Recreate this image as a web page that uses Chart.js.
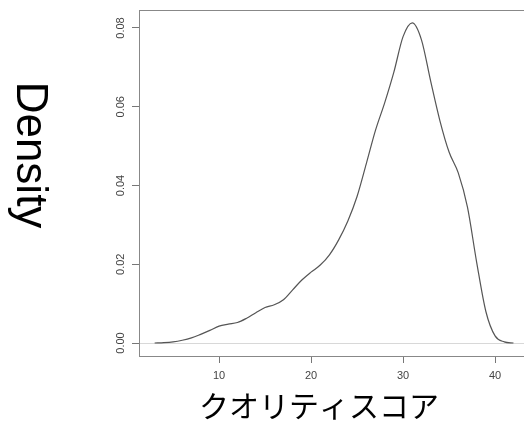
<!DOCTYPE html>
<html>
<head>
<meta charset="utf-8">
<script src="https://cdn.jsdelivr.net/npm/chart.js@4.4.1/dist/chart.umd.min.js"></script>
<style>
  html, body { margin: 0; padding: 0; background: #fff; overflow: hidden; }
  #wrap { width: 540px; height: 426px; }
</style>
</head>
<body>
<div id="wrap"><canvas id="densityChart" width="540" height="426"></canvas></div>
<script>
(() => {
  'use strict'

  // quality score (x) and estimated density (y)
  const scores = [3, 4, 5, 6, 7, 8, 9, 10, 11, 12, 13, 14, 15, 16, 17, 18, 19, 20, 21, 22,
    23, 24, 25, 26, 27, 28, 29, 30, 31, 32, 33, 34, 35, 36, 37, 38, 39, 40, 41, 42];
  const density = [0.0000, 0.0001, 0.0003, 0.0007, 0.0013, 0.0022, 0.0032, 0.0043, 0.0048, 0.0052,
    0.0063, 0.0077, 0.0090, 0.0097, 0.0110, 0.0135, 0.0160, 0.0180, 0.0198, 0.0224,
    0.0262, 0.0310, 0.0372, 0.0455, 0.0540, 0.0610, 0.0688, 0.0778, 0.0813, 0.0770,
    0.0665, 0.0565, 0.0485, 0.0432, 0.0345, 0.0205, 0.0080, 0.0018, 0.0003, 0.0000];
  const xTicks = [10, 20, 30, 40];
  const yTicks = [0, 0.02, 0.04, 0.06, 0.08];

  const xTitle = 'クオリティスコア';
  const yTitle = 'Density';

  // box around plot area + axis titles (R style)
  const frameAndTitles = {
    id: 'frameAndTitles',
    afterDraw(chart) {
      const { ctx, chartArea } = chart;
      ctx.save();
      ctx.strokeStyle = '#888';
      ctx.lineWidth = 1;
      ctx.beginPath();
      ctx.moveTo(Math.round(chartArea.left) + 0.5, Math.round(chartArea.top) + 0.5);
      ctx.lineTo(Math.round(chartArea.right) + 0.5, Math.round(chartArea.top) + 0.5);
      ctx.lineTo(Math.round(chartArea.right) + 0.5, Math.round(chartArea.bottom) + 0.5);
      ctx.stroke();

      ctx.fillStyle = '#000';
      ctx.font = '30px "Noto Sans CJK JP"';
      ctx.textAlign = 'center';
      ctx.textBaseline = 'middle';
      ctx.fillText(xTitle, 319, 406);

      ctx.translate(17, 155);
      ctx.rotate(Math.PI / 2);
      ctx.font = '44px "Liberation Sans"';
      ctx.textBaseline = 'alphabetic';
      ctx.fillText(yTitle, 0, 0);
      ctx.restore();
    }
  };

  const ctx1 = document.getElementById('densityChart');
  const densityChart = new Chart(ctx1, {
    type: 'line',
    data: {
      datasets: [{
        data: scores.map((s, i) => ({ x: s, y: density[i] })),
        borderColor: '#555',
        borderWidth: 1.2,
        pointRadius: 0,
        fill: false,
        cubicInterpolationMode: 'monotone'
      }]
    },
    options: {
      responsive: false,
      animation: false,
      layout: {
        padding: { top: 10, left: 0, right: 5, bottom: 0 }
      },
      scales: {
        x: {
          type: 'linear',
          min: 1.3,
          max: 44.34,
          afterBuildTicks: scale => { scale.ticks = xTicks.map(v => ({ value: v })); },
          afterFit: scale => { scale.height = 70; },
          grid: {
            drawOnChartArea: false,
            tickLength: 7,
            tickColor: '#777'
          },
          border: { display: true, color: '#888', width: 1 },
          ticks: {
            padding: 6,
            color: '#444',
            font: { family: 'Liberation Sans', size: 11 }
          }
        },
        y: {
          min: -0.0033,
          max: 0.08457,
          afterBuildTicks: scale => { scale.ticks = yTicks.map(v => ({ value: v })); },
          afterFit: scale => {
            scale.width = 139;
            scale.paddingTop = 0;
            scale.paddingBottom = 0;
          },
          grid: {
            color: c => (c.tick && c.tick.value === 0 ? '#d8d8d8' : 'rgba(0,0,0,0)'),
            tickLength: 7,
            tickColor: '#777'
          },
          border: { display: true, color: '#888', width: 1 },
          ticks: {
            minRotation: 90,
            maxRotation: 90,
            crossAlign: 'center',
            padding: 0,
            color: '#444',
            font: { family: 'Liberation Sans', size: 11 },
            callback: v => v.toFixed(2)
          }
        }
      },
      plugins: {
        legend: { display: false },
        tooltip: { enabled: false }
      }
    },
    plugins: [frameAndTitles]
  });

})();
</script>
</body>
</html>
